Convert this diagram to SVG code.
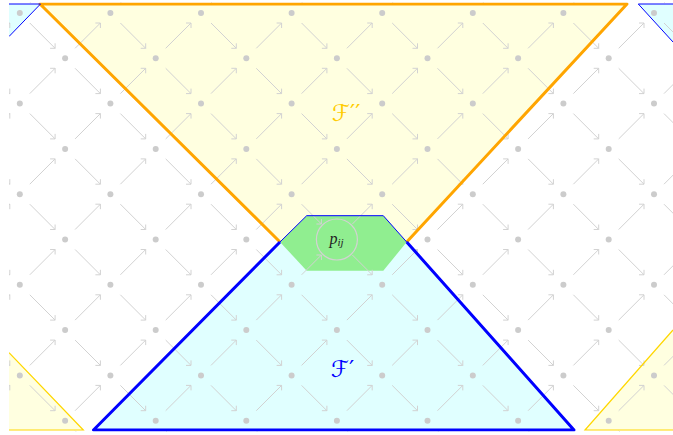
<svg xmlns="http://www.w3.org/2000/svg" width="673" height="435" viewBox="0 0 673 435">
<style>
.dot{fill:#cccccc}
.arr{fill:none;stroke:#d2d2d2;stroke-width:1}
.thickO{fill:none;stroke:#FFA500;stroke-width:3;stroke-linejoin:round}
.thickB{fill:none;stroke:#0000FF;stroke-width:3;stroke-linejoin:round}
.thinB{fill:none;stroke:#0000FF;stroke-width:1}
.thinY{fill:none;stroke:#FFD700;stroke-width:1.2}
.lbl{font-family:"DejaVu Sans","DejaVu Serif",sans-serif;font-size:23px}
</style>
<defs>
<clipPath id="clip"><rect x="9" y="2.5" width="664" height="429"/></clipPath>
<circle id="d" class="dot" r="3"/>
<path id="se" class="arr" d="M10,10L35.3,35.3M30.3,35.3L35.3,35.3L35.3,30.3"/>
<path id="ne" class="arr" d="M10,-10L35.3,-35.3M30.3,-35.3L35.3,-35.3L35.3,-30.3"/>
<g id="t"><use href="#se"/><use href="#ne"/><use href="#d"/></g>
</defs>
<g clip-path="url(#clip)">
<g id="regions">
<polygon id="F2" points="40,4 627,4 406.7,242 280,242" fill="#FFFFE0"/>
<polygon id="F1" points="93.5,430 280,242 306.7,215.7 383.3,215.7 406.7,242 574,430" fill="#E0FFFF"/>
<polygon points="9,4 40.5,4 9,36.5" fill="#E0FFFF"/>
<polygon points="638.3,4 673,4 673,42" fill="#E0FFFF"/>
<polygon points="9,352.7 83.3,430 9,430" fill="#FFFFE0"/>
<polygon points="585,430 673,330 673,430" fill="#FFFFE0"/>
<polygon id="hex" points="280,242 306.7,215.7 383.3,215.7 406.7,242 383.3,270.7 306.7,270.7" fill="#90EE90"/>
</g>
<g id="lattice">
<use href="#t" x="19.8" y="13"/><use href="#t" x="110.4" y="13"/><use href="#t" x="201" y="13"/><use href="#t" x="291.6" y="13"/><use href="#t" x="382.2" y="13"/><use href="#t" x="472.8" y="13"/><use href="#t" x="563.4" y="13"/><use href="#t" x="654" y="13"/>
<use href="#t" x="-25.5" y="58.3"/><use href="#t" x="65.1" y="58.3"/><use href="#t" x="155.7" y="58.3"/><use href="#t" x="246.3" y="58.3"/><use href="#t" x="336.9" y="58.3"/><use href="#t" x="427.5" y="58.3"/><use href="#t" x="518.1" y="58.3"/><use href="#t" x="608.7" y="58.3"/>
<use href="#t" x="19.8" y="103.6"/><use href="#t" x="110.4" y="103.6"/><use href="#t" x="201" y="103.6"/><use href="#t" x="291.6" y="103.6"/><use href="#t" x="382.2" y="103.6"/><use href="#t" x="472.8" y="103.6"/><use href="#t" x="563.4" y="103.6"/><use href="#t" x="654" y="103.6"/>
<use href="#t" x="-25.5" y="148.9"/><use href="#t" x="65.1" y="148.9"/><use href="#t" x="155.7" y="148.9"/><use href="#t" x="246.3" y="148.9"/><use href="#t" x="336.9" y="148.9"/><use href="#t" x="427.5" y="148.9"/><use href="#t" x="518.1" y="148.9"/><use href="#t" x="608.7" y="148.9"/>
<use href="#t" x="19.8" y="194.2"/><use href="#t" x="110.4" y="194.2"/><use href="#t" x="201" y="194.2"/><use href="#ne" x="291.6" y="194.2"/><use href="#d" x="291.6" y="194.2"/><use href="#t" x="382.2" y="194.2"/><use href="#t" x="472.8" y="194.2"/><use href="#t" x="563.4" y="194.2"/><use href="#t" x="654" y="194.2"/>
<use href="#t" x="-25.5" y="239.5"/><use href="#t" x="65.1" y="239.5"/><use href="#t" x="155.7" y="239.5"/><use href="#t" x="246.3" y="239.5"/><use href="#t" x="427.5" y="239.5"/><use href="#t" x="518.1" y="239.5"/><use href="#t" x="608.7" y="239.5"/>
<use href="#t" x="19.8" y="284.8"/><use href="#t" x="110.4" y="284.8"/><use href="#t" x="201" y="284.8"/><use href="#se" x="291.6" y="284.8"/><use href="#d" x="291.6" y="284.8"/><use href="#t" x="382.2" y="284.8"/><use href="#t" x="472.8" y="284.8"/><use href="#t" x="563.4" y="284.8"/><use href="#t" x="654" y="284.8"/>
<use href="#t" x="-25.5" y="330.1"/><use href="#t" x="65.1" y="330.1"/><use href="#t" x="155.7" y="330.1"/><use href="#t" x="246.3" y="330.1"/><use href="#t" x="336.9" y="330.1"/><use href="#t" x="427.5" y="330.1"/><use href="#t" x="518.1" y="330.1"/><use href="#t" x="608.7" y="330.1"/>
<use href="#t" x="19.8" y="375.4"/><use href="#t" x="110.4" y="375.4"/><use href="#t" x="201" y="375.4"/><use href="#t" x="291.6" y="375.4"/><use href="#t" x="382.2" y="375.4"/><use href="#t" x="472.8" y="375.4"/><use href="#t" x="563.4" y="375.4"/><use href="#t" x="654" y="375.4"/>
<use href="#t" x="-25.5" y="420.7"/><use href="#t" x="65.1" y="420.7"/><use href="#t" x="155.7" y="420.7"/><use href="#t" x="246.3" y="420.7"/><use href="#t" x="336.9" y="420.7"/><use href="#t" x="427.5" y="420.7"/><use href="#t" x="518.1" y="420.7"/><use href="#t" x="608.7" y="420.7"/>
</g>
<g id="pij-connectors" class="arr">
<path d="M301.6,204.2L321.4,224M316.4,224L321.4,224L321.4,219"/>
<path d="M301.6,274.8L321.4,255M316.4,255L321.4,255L321.4,260"/>
<path d="M352.4,255L372.2,274.8M367.2,274.8L372.2,274.8L372.2,269.8"/>
<path d="M352.4,224L372.2,204.2M367.2,204.2L372.2,204.2L372.2,209.2"/>
</g>
<g id="node-pij">
<circle cx="336.9" cy="239.5" r="20.5" fill="none" stroke="#d2d2d2" stroke-width="1.2"/>
<text x="329.5" y="243.5" font-family="Liberation Serif" font-style="italic" font-size="16" fill="#222">p<tspan font-size="11" dy="2.5">ij</tspan></text>
</g>
<g id="boundaries">
<polyline class="thickO" points="280,242 40,4 627,4 406.7,242"/>
<polyline class="thickB" points="280,242 93.5,430 574,430 406.7,242"/>
<polyline class="thinB" stroke-width="1.8" points="280,242 306.7,215.7 383.3,215.7 406.7,242"/>
<polyline class="thinB" points="9,4 40.5,4 9,36.5"/>
<polyline class="thinB" points="673,42 638.3,4 673,4"/>
<polyline class="thinY" points="9,352.7 83.3,430 9,430"/>
<polyline class="thinY" points="673,330 585,430 673,430"/>
</g>
<g id="labels">
<text class="lbl" x="332" y="121" fill="#FFCC00">ℱ′′</text>
<text class="lbl" x="331" y="377" fill="#0000FF">ℱ′</text>
</g>
</g>
</svg>
